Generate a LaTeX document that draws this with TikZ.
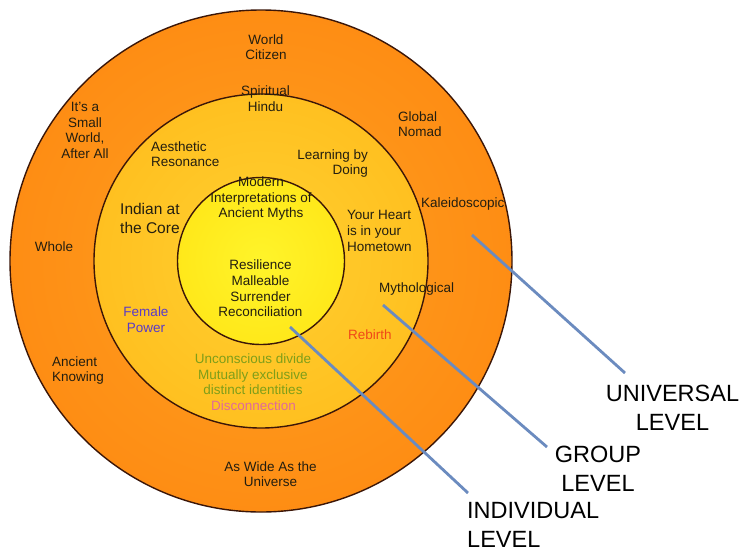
\documentclass[tikz,border=0pt]{standalone}
\usepackage{fontspec}
\setmainfont{Liberation Sans}
\definecolor{oA}{HTML}{FFA020}
\definecolor{oB}{HTML}{FD8710}
\definecolor{oC}{HTML}{F06A06}
\definecolor{mA}{HTML}{FFD030}
\definecolor{mB}{HTML}{FFC020}
\definecolor{mC}{HTML}{F99A1E}
\definecolor{iA}{HTML}{FFF42A}
\definecolor{iB}{HTML}{FFE81A}
\definecolor{iC}{HTML}{FCC80C}
\definecolor{rim}{HTML}{3B1608}
\definecolor{txt}{HTML}{231E10}
\definecolor{lvl}{HTML}{6B8BBF}
\definecolor{purp}{HTML}{5A3AC8}
\definecolor{olive}{HTML}{7E9E1A}
\definecolor{pinkt}{HTML}{E06A9A}
\definecolor{redt}{HTML}{F04818}
\pgfdeclareradialshading{outerR}{\pgfpoint{0bp}{0bp}}{color(0bp)=(oA); color(33bp)=(oB); color(50bp)=(oC); color(72bp)=(oC)}
\pgfdeclareradialshading{middleR}{\pgfpoint{0bp}{0bp}}{color(0bp)=(mA); color(25bp)=(mB); color(50bp)=(mC); color(72bp)=(mC)}
\pgfdeclareradialshading{innerR}{\pgfpoint{0bp}{0bp}}{color(0bp)=(iA); color(25bp)=(iB); color(50bp)=(iC); color(72bp)=(iC)}
\tikzset{
  ring/.style={draw=rim, line width=1.4pt},
  lbl/.style={inner sep=0pt, text=txt, font=\fontsize{13.5}{15.6}\selectfont, align=center},
  big/.style={inner sep=0pt, text=black, font=\fontsize{23.5}{29}\selectfont, align=center},
  levelline/.style={draw=lvl, line width=2.8pt}
}
\begin{document}
\begin{tikzpicture}[x=1pt, y=-1pt]
\useasboundingbox (0,0) rectangle (741,552);
\fill[white] (0,0) rectangle (741,552);
% circles
\shade[shading=outerR] (261,261) circle (251);
\draw[ring] (261,261) circle (251);
\shade[shading=middleR] (261,261) circle (167);
\draw[ring] (261,261) circle (167);
\shade[shading=innerR] (261,261) circle (83.5);
\draw[ring] (261,261) circle (83.5);
% outer ring texts
\node[lbl] (world) at (266,47.2) {World\\Citizen};
\node[lbl] (small) at (85,130.5) {It's a\\Small\\World,\\After All};
\node[lbl, anchor=west, align=left] (nomad) at (398,124) {Global\\Nomad};
\node[lbl, anchor=west] (kal) at (421,204.4) {Kaleidoscopic};
\node[lbl] (whole) at (54,247) {Whole};
\node[lbl, anchor=west, align=left] (knowing) at (52,370.4) {Ancient\\Knowing};
\node[lbl] (wide) at (270.5,474) {As Wide As the\\Universe};
% middle ring texts
\node[lbl] (spirit) at (265.5,98.5) {Spiritual\\Hindu};
\node[lbl, anchor=west, align=left] (aest) at (151,154) {Aesthetic\\Resonance};
\node[lbl, anchor=east, align=right] (learn) at (368,163.4) {Learning by\\Doing};
\node[lbl, anchor=west, align=left, font=\fontsize{15.5}{19}\selectfont] (indian) at (120,218.3) {Indian at\\the Core};
\node[lbl, anchor=west, align=left] (heart) at (347,231) {Your Heart\\is in your\\Hometown};
\node[lbl, anchor=west] (myth) at (379,289.4) {Mythological};
\node[lbl, anchor=west, text=redt] (rebirth) at (348,335) {Rebirth};
\node[lbl, text=purp] (female) at (146,319.5) {Female\\Power};
\node[lbl, text=olive] (divide) at (253,374.5) {Unconscious divide\\Mutually exclusive\\distinct identities};
\node[lbl, text=pinkt] (disc) at (253.5,406) {Disconnection};
% inner circle texts
\node[lbl] (modern) at (261,198.9) {Modern\\Interpretations of\\Ancient Myths};
\node[lbl] (resil) at (260.5,288.5) {Resilience\\Malleable\\Surrender\\Reconciliation};
% level labels
\node[big] (univ) at (672.5,407.5) {UNIVERSAL\\LEVEL};
\node[big] (group) at (598,469) {GROUP\\LEVEL};
\node[big, anchor=west, align=left] (indiv) at (467,524.5) {INDIVIDUAL\\LEVEL};
% level connectors
\coordinate (u1) at (472,235);
\coordinate (u2) at (625,373);
\coordinate (g1) at (383,305);
\coordinate (g2) at (547,447);
\coordinate (i1) at (290,327);
\coordinate (i2) at (468,493);
\draw[levelline] (u1) -- (u2);
\draw[levelline] (g1) -- (g2);
\draw[levelline] (i1) -- (i2);
\end{tikzpicture}
\end{document}
